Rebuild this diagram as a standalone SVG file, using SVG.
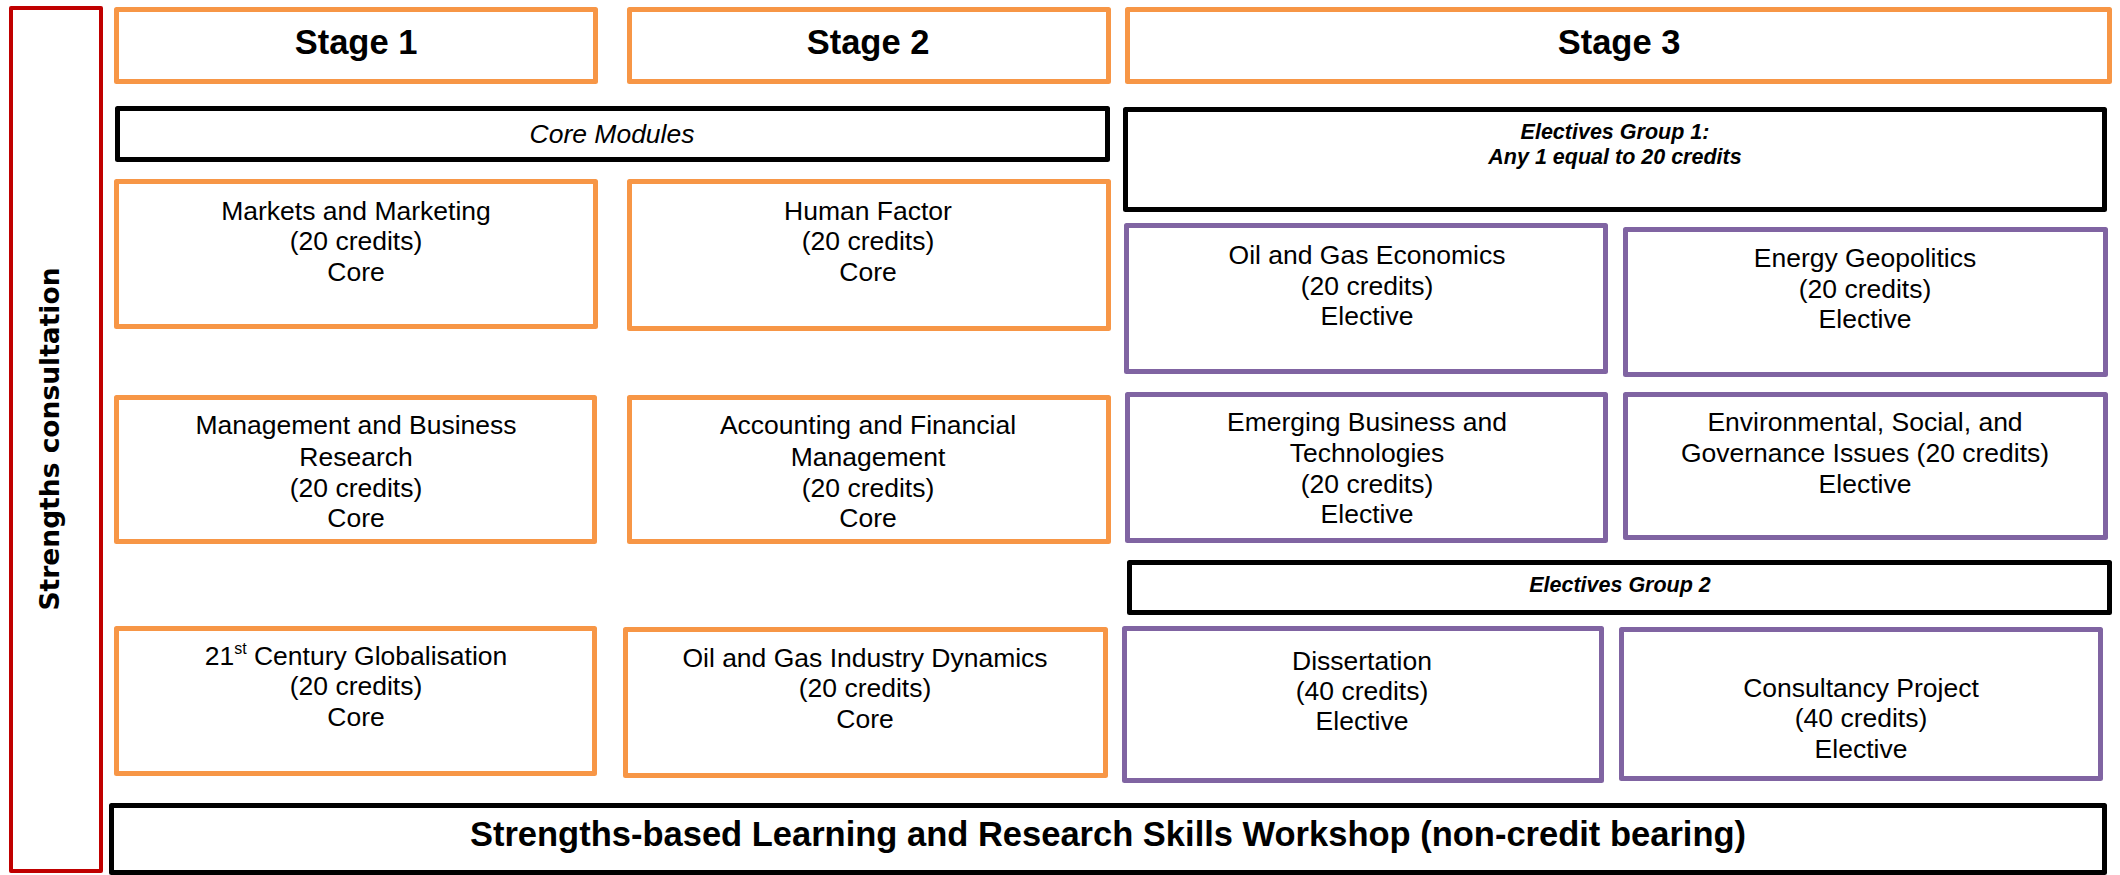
<svg xmlns="http://www.w3.org/2000/svg" width="2120" height="875" viewBox="0 0 2120 875">
  <style>
    .bg { fill: #ffffff; }
    rect { stroke-linejoin: round; }
    .core { fill: #ffffff; stroke: #F79646; stroke-width: 5; }
    .elective { fill: #ffffff; stroke: #8064A2; stroke-width: 5; }
    .band { fill: #ffffff; stroke: #000000; stroke-width: 5; }
    .side { fill: #ffffff; stroke: #C00000; stroke-width: 4; }
    text { font-family: "Liberation Sans", Arial, sans-serif; fill: #000000; text-anchor: middle; }
    .body { font-size: 26.5px; }
    .head { font-size: 34.5px; font-weight: bold; }
    .label { font-size: 26.5px; font-style: italic; }
    .group { font-size: 21.5px; font-style: italic; font-weight: bold; }
    .vert { font-family: "DejaVu Sans", Verdana, sans-serif; font-size: 26.5px; font-weight: bold; }
  </style>

  <rect class="bg" x="0" y="0" width="2120" height="875" style="stroke:none"/>

  <!-- Side bar -->
  <g id="strengths-consultation">
    <rect class="side" x="11" y="8" width="90" height="863"/>
    <text class="vert" transform="translate(59,439) rotate(-90)">Strengths consultation</text>
  </g>

  <!-- Stage headers -->
  <g id="stage-1">
    <rect class="core" x="116.5" y="9.5" width="479" height="72"/>
    <text class="head" x="356" y="54">Stage 1</text>
  </g>
  <g id="stage-2">
    <rect class="core" x="629.5" y="9.5" width="479" height="72"/>
    <text class="head" x="868" y="54">Stage 2</text>
  </g>
  <g id="stage-3">
    <rect class="core" x="1127.5" y="9.5" width="982" height="72"/>
    <text class="head" x="1619" y="54">Stage 3</text>
  </g>

  <!-- Group bands -->
  <g id="core-modules">
    <rect class="band" x="117.5" y="108.5" width="990" height="51"/>
    <text class="label" x="612" y="143">Core Modules</text>
  </g>
  <g id="electives-group-1">
    <rect class="band" x="1125.5" y="109.5" width="979" height="100"/>
    <text class="group" x="1615" y="139">Electives Group 1:</text>
    <text class="group" x="1615" y="164">Any 1 equal to 20 credits</text>
  </g>
  <g id="electives-group-2">
    <rect class="band" x="1129.5" y="562.5" width="980" height="50"/>
    <text class="group" x="1620" y="592">Electives Group 2</text>
  </g>

  <!-- Stage 1 modules -->
  <g id="markets-and-marketing">
    <rect class="core" x="116.5" y="181.5" width="479" height="145"/>
    <text class="body" x="356" y="220">Markets and Marketing</text>
    <text class="body" x="356" y="250">(20 credits)</text>
    <text class="body" x="356" y="281">Core</text>
  </g>
  <g id="management-and-business-research">
    <rect class="core" x="116.5" y="397.5" width="478" height="144"/>
    <text class="body" x="356" y="434">Management and Business</text>
    <text class="body" x="356" y="466">Research</text>
    <text class="body" x="356" y="497">(20 credits)</text>
    <text class="body" x="356" y="527">Core</text>
  </g>
  <g id="century-globalisation">
    <rect class="core" x="116.5" y="628.5" width="478" height="145"/>
    <text class="body" x="356" y="665">21<tspan font-size="16" dy="-11">st</tspan><tspan dy="11"> Century Globalisation</tspan></text>
    <text class="body" x="356" y="695">(20 credits)</text>
    <text class="body" x="356" y="726">Core</text>
  </g>

  <!-- Stage 2 modules -->
  <g id="human-factor">
    <rect class="core" x="629.5" y="181.5" width="479" height="147"/>
    <text class="body" x="868" y="220">Human Factor</text>
    <text class="body" x="868" y="250">(20 credits)</text>
    <text class="body" x="868" y="281">Core</text>
  </g>
  <g id="accounting-and-financial-management">
    <rect class="core" x="629.5" y="397.5" width="479" height="144"/>
    <text class="body" x="868" y="434">Accounting and Financial</text>
    <text class="body" x="868" y="466">Management</text>
    <text class="body" x="868" y="497">(20 credits)</text>
    <text class="body" x="868" y="527">Core</text>
  </g>
  <g id="oil-and-gas-industry-dynamics">
    <rect class="core" x="625.5" y="629.5" width="480" height="146"/>
    <text class="body" x="865" y="667">Oil and Gas Industry Dynamics</text>
    <text class="body" x="865" y="697">(20 credits)</text>
    <text class="body" x="865" y="728">Core</text>
  </g>

  <!-- Stage 3 electives -->
  <g id="oil-and-gas-economics">
    <rect class="elective" x="1126.5" y="225.5" width="479" height="146"/>
    <text class="body" x="1367" y="264">Oil and Gas Economics</text>
    <text class="body" x="1367" y="295">(20 credits)</text>
    <text class="body" x="1367" y="325">Elective</text>
  </g>
  <g id="energy-geopolitics">
    <rect class="elective" x="1625.5" y="229.5" width="480" height="145"/>
    <text class="body" x="1865" y="267">Energy Geopolitics</text>
    <text class="body" x="1865" y="298">(20 credits)</text>
    <text class="body" x="1865" y="328">Elective</text>
  </g>
  <g id="emerging-business-and-technologies">
    <rect class="elective" x="1127.5" y="394.5" width="478" height="146"/>
    <text class="body" x="1367" y="431">Emerging Business and</text>
    <text class="body" x="1367" y="462">Technologies</text>
    <text class="body" x="1367" y="493">(20 credits)</text>
    <text class="body" x="1367" y="523">Elective</text>
  </g>
  <g id="esg-issues">
    <rect class="elective" x="1625.5" y="394.5" width="480" height="143"/>
    <text class="body" x="1865" y="431">Environmental, Social, and</text>
    <text class="body" x="1865" y="462">Governance Issues (20 credits)</text>
    <text class="body" x="1865" y="493">Elective</text>
  </g>
  <g id="dissertation">
    <rect class="elective" x="1124.5" y="628.5" width="477" height="152"/>
    <text class="body" x="1362" y="670">Dissertation</text>
    <text class="body" x="1362" y="700">(40 credits)</text>
    <text class="body" x="1362" y="730">Elective</text>
  </g>
  <g id="consultancy-project">
    <rect class="elective" x="1621.5" y="629.5" width="479" height="149"/>
    <text class="body" x="1861" y="697">Consultancy Project</text>
    <text class="body" x="1861" y="727">(40 credits)</text>
    <text class="body" x="1861" y="758">Elective</text>
  </g>

  <!-- Workshop band -->
  <g id="skills-workshop">
    <rect class="band" x="111.5" y="805.5" width="1993" height="67"/>
    <text class="head" x="1108" y="846">Strengths-based Learning and Research Skills Workshop (non-credit bearing)</text>
  </g>

  <!-- No connectors in this layout -->
  <g id="connectors"/>
</svg>
